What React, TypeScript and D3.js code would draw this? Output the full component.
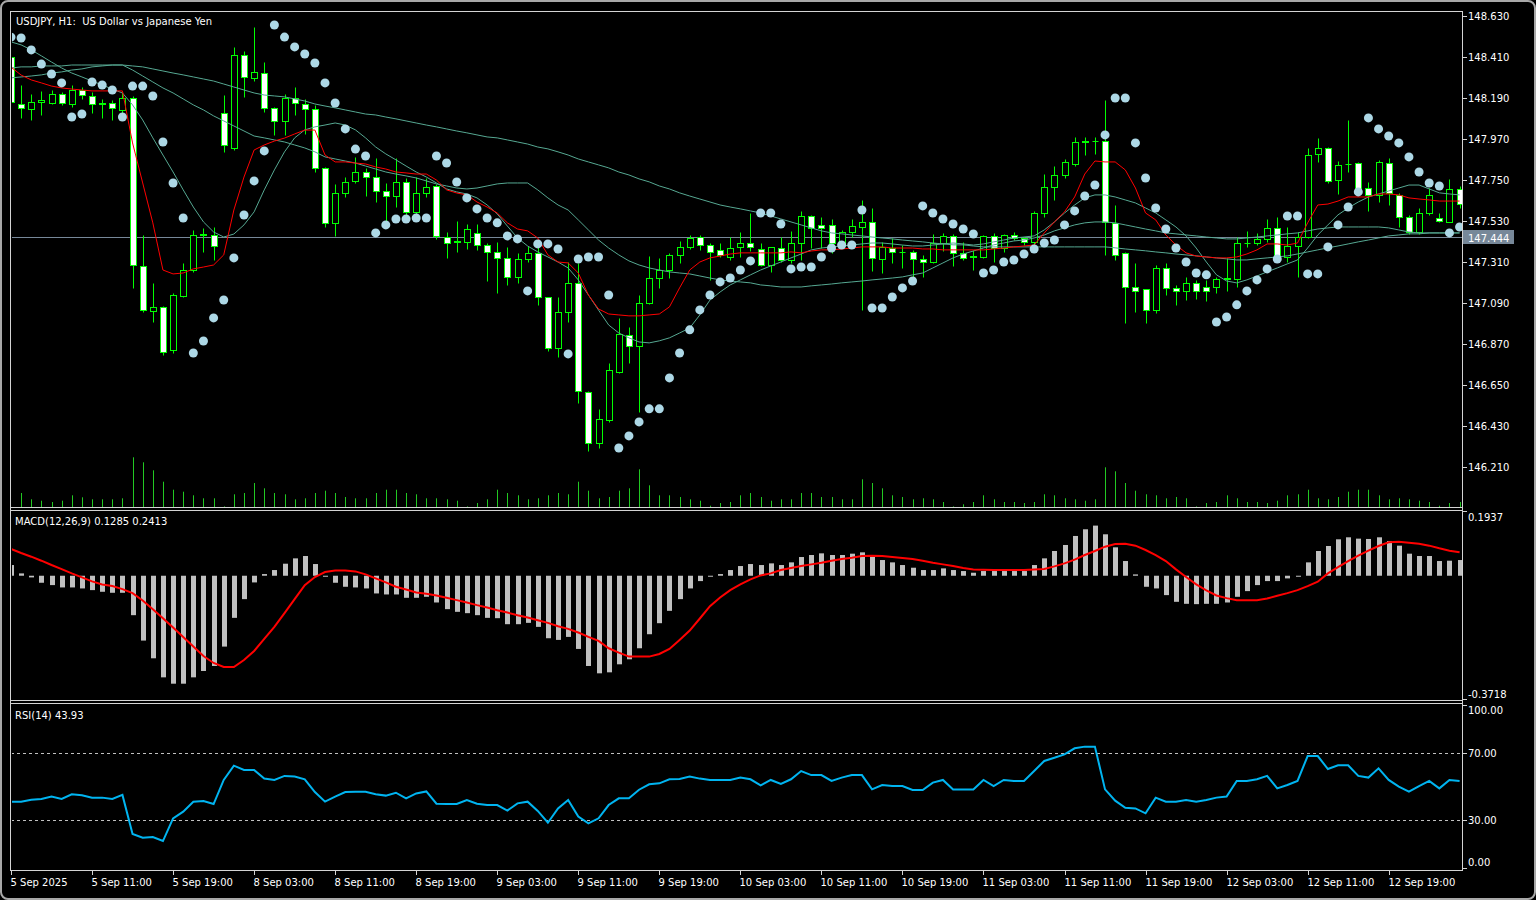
import React from "react";
import * as d3 from "d3";

// ---- data (USDJPY H1, 144 bars) ----
const open = [
  148.41, 148.16, 148.13, 148.17, 148.165, 148.21, 148.16, 148.233, 148.2, 148.165, 148.165, 148.126,
  148.188, 147.289, 147.047, 147.07, 146.838, 147.128, 147.267, 147.455, 147.455, 148.108, 147.92, 148.42,
  148.295, 148.326, 148.134, 148.066, 148.188, 148.156, 148.13, 147.816, 147.521, 147.678, 147.746, 147.794,
  147.768, 147.693, 147.666, 147.741, 147.577, 147.678, 147.718, 147.446, 147.423, 147.419, 147.467, 147.401,
  147.366, 147.333, 147.231, 147.324, 147.36, 147.124, 146.847, 147.042, 147.199, 146.613, 146.341, 146.462,
  146.722, 146.918, 146.86, 147.088, 147.222, 147.267, 147.347, 147.389, 147.446, 147.401, 147.374, 147.338,
  147.389, 147.414, 147.379, 147.294, 147.387, 147.321, 147.414, 147.557, 147.509, 147.509, 147.414, 147.47,
  147.5, 147.523, 147.325, 147.387, 147.364, 147.366, 147.327, 147.312, 147.411, 147.45, 147.357, 147.34,
  147.339, 147.447, 147.384, 147.455, 147.438, 147.42, 147.572, 147.715, 147.777, 147.835, 147.955, 147.958,
  147.96, 147.518, 147.357, 147.178, 147.164, 147.05, 147.28, 147.169, 147.157, 147.2, 147.178, 147.175,
  147.22, 147.218, 147.411, 147.411, 147.432, 147.491, 147.339, 147.397, 147.446, 147.89, 147.92, 147.751,
  147.834, 147.843, 147.706, 147.67, 147.843, 147.67, 147.55, 147.473, 147.572, 147.545, 147.522, 147.7,
];
const high = [
  148.44, 148.26, 148.21, 148.23, 148.233, 148.22, 148.26, 148.247, 148.224, 148.183, 148.18, 148.224,
  148.2, 147.455, 147.196, 147.075, 147.142, 147.303, 147.48, 147.49, 147.5, 148.206, 148.465, 148.44,
  148.573, 148.385, 148.143, 148.211, 148.247, 148.183, 148.152, 147.822, 147.73, 147.768, 147.875, 147.812,
  147.87, 147.736, 147.866, 147.759, 147.768, 147.759, 147.73, 147.473, 147.532, 147.514, 147.514, 147.414,
  147.419, 147.392, 147.36, 147.398, 147.392, 147.124, 147.124, 147.312, 147.303, 146.62, 146.52, 146.766,
  147.008, 146.963, 147.133, 147.342, 147.33, 147.356, 147.424, 147.455, 147.455, 147.41, 147.41, 147.446,
  147.473, 147.572, 147.411, 147.393, 147.446, 147.477, 147.581, 147.563, 147.554, 147.54, 147.482, 147.54,
  147.643, 147.598, 147.42, 147.437, 147.402, 147.375, 147.348, 147.461, 147.464, 147.461, 147.42, 147.375,
  147.455, 147.468, 147.461, 147.473, 147.446, 147.581, 147.783, 147.826, 147.861, 147.979, 147.979, 147.979,
  148.18, 147.616, 147.366, 147.304, 147.164, 147.294, 147.303, 147.187, 147.232, 147.214, 147.214, 147.232,
  147.33, 147.446, 147.479, 147.468, 147.54, 147.55, 147.5, 147.473, 147.92, 147.974, 147.929, 147.852,
  148.072, 147.849, 147.741, 147.858, 147.867, 147.679, 147.563, 147.598, 147.706, 147.572, 147.754, 147.72,
];
const low = [
  148.15, 148.08, 148.07, 148.1, 148.156, 148.155, 148.143, 148.183, 148.108, 148.08, 148.07, 148.072,
  147.17, 147.044, 146.99, 146.81, 146.82, 147.12, 147.258, 147.366, 147.32, 147.902, 147.91, 148.193,
  148.283, 148.117, 147.99, 147.99, 148.1, 147.999, 147.795, 147.5, 147.45, 147.657, 147.732, 147.664,
  147.634, 147.526, 147.607, 147.562, 147.553, 147.66, 147.432, 147.33, 147.366, 147.378, 147.374, 147.21,
  147.142, 147.186, 147.195, 147.308, 147.079, 146.834, 146.802, 146.99, 146.552, 146.298, 146.31, 146.453,
  146.713, 146.766, 146.507, 147.085, 147.169, 147.222, 147.303, 147.378, 147.374, 147.213, 147.338, 147.32,
  147.339, 147.371, 147.286, 147.259, 147.312, 147.307, 147.321, 147.384, 147.384, 147.357, 147.384, 147.446,
  147.053, 147.262, 147.25, 147.303, 147.277, 147.232, 147.232, 147.303, 147.371, 147.286, 147.321, 147.268,
  147.33, 147.312, 147.366, 147.429, 147.402, 147.402, 147.554, 147.643, 147.759, 147.826, 147.885, 147.89,
  147.348, 147.321, 146.985, 147.044, 146.982, 147.039, 147.134, 147.08, 147.107, 147.11, 147.103, 147.143,
  147.157, 147.178, 147.393, 147.402, 147.42, 147.321, 147.312, 147.232, 147.437, 147.849, 147.733, 147.674,
  147.795, 147.67, 147.581, 147.634, 147.616, 147.5, 147.461, 147.461, 147.563, 147.527, 147.522, 147.6,
];
const close = [
  148.17, 148.135, 148.17, 148.18, 148.21, 148.161, 148.233, 148.206, 148.156, 148.16, 148.134, 148.188,
  147.294, 147.053, 147.07, 146.829, 147.133, 147.267, 147.455, 147.46, 147.396, 147.938, 148.42, 148.305,
  148.331, 148.134, 148.066, 148.192, 148.165, 148.13, 147.816, 147.521, 147.682, 147.741, 147.794, 147.768,
  147.693, 147.666, 147.741, 147.577, 147.678, 147.714, 147.45, 147.414, 147.42, 147.485, 147.4, 147.366,
  147.333, 147.231, 147.326, 147.36, 147.124, 146.847, 147.042, 147.199, 146.62, 146.341, 146.466, 146.73,
  146.922, 146.86, 147.092, 147.226, 147.267, 147.347, 147.389, 147.437, 147.401, 147.365, 147.347, 147.383,
  147.414, 147.389, 147.294, 147.389, 147.321, 147.414, 147.557, 147.491, 147.491, 147.414, 147.47, 147.504,
  147.523, 147.334, 147.393, 147.361, 147.363, 147.325, 147.312, 147.411, 147.45, 147.357, 147.334, 147.339,
  147.45, 147.384, 147.455, 147.438, 147.42, 147.572, 147.715, 147.777, 147.849, 147.953, 147.957, 147.96,
  147.522, 147.348, 147.178, 147.157, 147.05, 147.28, 147.169, 147.157, 147.2, 147.157, 147.157, 147.218,
  147.223, 147.411, 147.414, 147.432, 147.491, 147.343, 147.397, 147.446, 147.885, 147.92, 147.742, 147.831,
  147.835, 147.688, 147.67, 147.849, 147.679, 147.554, 147.473, 147.572, 147.67, 147.532, 147.7, 147.62,
];
const volume = [
  1000, 1400, 770, 630, 500, 630, 1170, 970, 770, 770, 770, 870,
  4970, 4470, 3670, 2530, 1730, 1530, 1170, 870, 870, 60, 1270, 1400,
  2400, 1870, 1400, 1270, 770, 870, 1400, 1630, 1400, 1000, 870, 870,
  1400, 1730, 1730, 1400, 1270, 870, 870, 770, 630, 60, 400, 770,
  1730, 1400, 1170, 770, 870, 1170, 1400, 1270, 2530, 1630, 870, 1000,
  1630, 1870, 3770, 2170, 1170, 1170, 1000, 770, 630, 130, 400, 500,
  1170, 1400, 1000, 630, 770, 770, 1400, 1400, 1000, 1000, 770, 770,
  2770, 2400, 1870, 1170, 1000, 770, 870, 770, 500, 60, 270, 500,
  1170, 770, 500, 500, 400, 500, 1270, 1170, 870, 770, 630, 770,
  3970, 3570, 2400, 1630, 1270, 1170, 870, 1000, 870, 60, 400, 500,
  1170, 870, 500, 500, 400, 630, 1170, 1270, 1730, 870, 770, 1000,
  1530, 1730, 1730, 1170, 770, 870, 770, 630, 500, 130, 400, 500,
];
const sar = [
  148.517, 148.512, 148.448, 148.372, 148.319, 148.271, 148.088, 148.104, 148.276, 148.26, 148.233, 148.088,
  148.254, 148.254, 148.201, 147.954, 147.734, 147.546, 146.822, 146.886, 147.01, 147.106, 147.332, 147.562,
  147.745, 147.906, 148.582, 148.517, 148.464, 148.426, 148.378, 148.271, 148.163, 148.024, 147.916, 147.879,
  147.466, 147.509, 147.541, 147.541, 147.546, 147.546, 147.879, 147.841, 147.739, 147.654, 147.595, 147.546,
  147.52, 147.45, 147.434, 147.155, 147.407, 147.407, 147.38, 146.817, 147.326, 147.337, 147.337, 147.133,
  146.312, 146.377, 146.452, 146.522, 146.522, 146.688, 146.822, 146.946, 147.053, 147.133, 147.203, 147.224,
  147.267, 147.316, 147.573, 147.573, 147.514, 147.273, 147.283, 147.283, 147.337, 147.385, 147.401, 147.401,
  147.589, 147.063, 147.063, 147.122, 147.171, 147.208, 147.611, 147.573, 147.541, 147.514, 147.487, 147.46,
  147.251, 147.267, 147.31, 147.321, 147.353, 147.38, 147.412, 147.428, 147.509, 147.584, 147.664, 147.723,
  147.992, 148.19, 148.19, 147.949, 147.761, 147.6, 147.487, 147.385, 147.31, 147.251, 147.241, 146.988,
  147.015, 147.08, 147.155, 147.214, 147.273, 147.326, 147.557, 147.557, 147.246, 147.246, 147.391, 147.509,
  147.605, 147.686, 148.083, 148.024, 147.986, 147.949, 147.874, 147.793, 147.734, 147.718, 147.466, 147.498,
];
const maRed = [
  148.356, 148.313, 148.287, 148.271, 148.254, 148.244, 148.238, 148.233, 148.228, 148.228, 148.228, 148.228,
  147.949, 147.734, 147.52, 147.267, 147.246, 147.251, 147.273, 147.283, 147.294, 147.348, 147.589, 147.766,
  147.911, 147.938, 147.959, 147.975, 147.997, 148.018, 148.018, 147.884, 147.847, 147.847, 147.841, 147.836,
  147.82, 147.809, 147.793, 147.788, 147.782, 147.782, 147.75, 147.697, 147.68, 147.67, 147.632, 147.605,
  147.573, 147.52, 147.487, 147.477, 147.439, 147.348, 147.31, 147.305, 147.251, 147.133, 147.058, 147.031,
  147.026, 147.021, 147.021, 147.026, 147.031, 147.069, 147.171, 147.267, 147.31, 147.332, 147.342, 147.353,
  147.359, 147.359, 147.359, 147.359, 147.359, 147.364, 147.359, 147.369, 147.375, 147.375, 147.38, 147.385,
  147.391, 147.391, 147.391, 147.385, 147.385, 147.385, 147.38, 147.38, 147.375, 147.375, 147.375, 147.375,
  147.375, 147.38, 147.385, 147.391, 147.396, 147.401, 147.466, 147.525, 147.579, 147.659, 147.782, 147.852,
  147.847, 147.847, 147.804, 147.707, 147.573, 147.536, 147.455, 147.401, 147.359, 147.342, 147.337, 147.332,
  147.332, 147.337, 147.353, 147.375, 147.407, 147.407, 147.401, 147.412, 147.52, 147.616, 147.621, 147.637,
  147.659, 147.659, 147.659, 147.675, 147.675, 147.67, 147.654, 147.648, 147.643, 147.637, 147.637, 147.637,
];
const maFast = [
  148.491, 148.475, 148.448, 148.416, 148.383, 148.351, 148.324, 148.303, 148.281, 148.26, 148.238, 148.217,
  148.153, 148.072, 147.976, 147.884, 147.793, 147.697, 147.605, 147.525, 147.471, 147.444, 147.46, 147.509,
  147.579, 147.697, 147.804, 147.901, 147.976, 148.019, 148.035, 148.045, 148.056, 148.045, 148.019, 147.976,
  147.927, 147.89, 147.858, 147.825, 147.793, 147.766, 147.734, 147.702, 147.686, 147.675, 147.654, 147.616,
  147.568, 147.503, 147.439, 147.396, 147.364, 147.337, 147.31, 147.278, 147.214, 147.133, 147.052, 146.972,
  146.929, 146.903, 146.881, 146.876, 146.887, 146.903, 146.929, 146.956, 147.026, 147.106, 147.149, 147.187,
  147.214, 147.241, 147.267, 147.289, 147.31, 147.332, 147.353, 147.375, 147.385, 147.391, 147.396, 147.401,
  147.407, 147.412, 147.412, 147.407, 147.401, 147.396, 147.396, 147.401, 147.407, 147.412, 147.407, 147.401,
  147.407, 147.418, 147.428, 147.439, 147.444, 147.45, 147.482, 147.525, 147.573, 147.616, 147.654, 147.67,
  147.67, 147.659, 147.643, 147.627, 147.6, 147.573, 147.536, 147.498, 147.45, 147.385, 147.31, 147.241,
  147.208, 147.198, 147.214, 147.235, 147.257, 147.278, 147.3, 147.321, 147.385, 147.455, 147.509, 147.563,
  147.6, 147.632, 147.659, 147.675, 147.691, 147.707, 147.723, 147.723, 147.702, 147.681, 147.675, 147.67,
];
const maMid = [
  148.298, 148.303, 148.308, 148.314, 148.324, 148.33, 148.34, 148.346, 148.357, 148.362, 148.367, 148.367,
  148.34, 148.308, 148.276, 148.244, 148.217, 148.185, 148.153, 148.126, 148.094, 148.067, 148.04, 148.013,
  147.986, 147.976, 147.965, 147.954, 147.938, 147.922, 147.901, 147.874, 147.863, 147.852, 147.841, 147.825,
  147.809, 147.793, 147.782, 147.772, 147.761, 147.745, 147.729, 147.718, 147.707, 147.702, 147.707, 147.718,
  147.729, 147.734, 147.734, 147.734, 147.697, 147.654, 147.616, 147.589, 147.536, 147.482, 147.428, 147.385,
  147.348, 147.316, 147.294, 147.278, 147.267, 147.257, 147.251, 147.246, 147.235, 147.224, 147.214, 147.208,
  147.203, 147.198, 147.187, 147.182, 147.176, 147.176, 147.176, 147.182, 147.187, 147.192, 147.198, 147.203,
  147.208, 147.214, 147.219, 147.224, 147.23, 147.241, 147.251, 147.278, 147.305, 147.332, 147.353, 147.369,
  147.385, 147.402, 147.412, 147.423, 147.428, 147.439, 147.455, 147.477, 147.493, 147.509, 147.52, 147.525,
  147.525, 147.52, 147.509, 147.498, 147.487, 147.477, 147.466, 147.461, 147.455, 147.45, 147.444, 147.439,
  147.434, 147.434, 147.439, 147.444, 147.45, 147.455, 147.461, 147.466, 147.477, 147.487, 147.493, 147.498,
  147.498, 147.498, 147.498, 147.498, 147.493, 147.482, 147.471, 147.466, 147.466, 147.466, 147.466, 147.466,
];
const maSlow = [
  148.351, 148.357, 148.357, 148.362, 148.362, 148.362, 148.367, 148.367, 148.367, 148.367, 148.367, 148.367,
  148.362, 148.357, 148.346, 148.335, 148.324, 148.314, 148.303, 148.292, 148.281, 148.265, 148.249, 148.233,
  148.217, 148.206, 148.201, 148.196, 148.185, 148.174, 148.158, 148.147, 148.137, 148.126, 148.115, 148.104,
  148.099, 148.088, 148.078, 148.067, 148.056, 148.045, 148.035, 148.024, 148.013, 148.003, 147.992, 147.981,
  147.976, 147.965, 147.954, 147.943, 147.927, 147.917, 147.901, 147.884, 147.863, 147.847, 147.831, 147.815,
  147.793, 147.777, 147.756, 147.74, 147.718, 147.702, 147.681, 147.664, 147.648, 147.632, 147.616, 147.605,
  147.595, 147.584, 147.573, 147.557, 147.541, 147.525, 147.509, 147.493, 147.477, 147.466, 147.461, 147.455,
  147.45, 147.444, 147.439, 147.434, 147.428, 147.423, 147.418, 147.412, 147.407, 147.402, 147.402, 147.396,
  147.391, 147.391, 147.391, 147.391, 147.391, 147.391, 147.391, 147.391, 147.391, 147.391, 147.391, 147.391,
  147.391, 147.386, 147.38, 147.375, 147.37, 147.364, 147.359, 147.353, 147.348, 147.343, 147.337, 147.332,
  147.327, 147.321, 147.321, 147.327, 147.332, 147.337, 147.343, 147.353, 147.364, 147.375, 147.386, 147.396,
  147.407, 147.418, 147.428, 147.439, 147.45, 147.455, 147.461, 147.461, 147.466, 147.466, 147.466, 147.466,
];
const macdHist = [
  0.032, 0.007, -0.005, -0.021, -0.028, -0.035, -0.035, -0.038, -0.043, -0.048, -0.051, -0.051,
  -0.118, -0.194, -0.247, -0.304, -0.323, -0.323, -0.304, -0.285, -0.27, -0.212, -0.126, -0.07,
  -0.02, 0.005, 0.017, 0.036, 0.052, 0.059, 0.035, -0.003, -0.021, -0.033, -0.035, -0.038,
  -0.053, -0.056, -0.056, -0.066, -0.066, -0.063, -0.08, -0.1, -0.108, -0.112, -0.118, -0.126,
  -0.127, -0.145, -0.145, -0.141, -0.153, -0.187, -0.192, -0.183, -0.219, -0.27, -0.292, -0.289,
  -0.265, -0.25, -0.217, -0.175, -0.142, -0.105, -0.07, -0.038, -0.016, -0.001, 0.005, 0.017,
  0.029, 0.035, 0.032, 0.037, 0.032, 0.04, 0.056, 0.062, 0.067, 0.062, 0.062, 0.066,
  0.07, 0.057, 0.047, 0.04, 0.032, 0.024, 0.017, 0.017, 0.022, 0.017, 0.014, 0.009,
  0.014, 0.014, 0.014, 0.014, 0.014, 0.032, 0.052, 0.074, 0.092, 0.119, 0.139, 0.15,
  0.124, 0.085, 0.044, 0.004, -0.033, -0.038, -0.058, -0.078, -0.084, -0.085, -0.084, -0.084,
  -0.08, -0.063, -0.046, -0.028, -0.016, -0.016, -0.008, -0.001, 0.04, 0.074, 0.089, 0.109,
  0.115, 0.111, 0.11, 0.115, 0.104, 0.09, 0.066, 0.059, 0.059, 0.044, 0.045, 0.047,
];
const macdSignal = [
  0.08, 0.068, 0.057, 0.045, 0.032, 0.02, 0.007, -0.005, -0.017, -0.026, -0.031, -0.04,
  -0.052, -0.074, -0.1, -0.127, -0.155, -0.183, -0.212, -0.24, -0.261, -0.273, -0.273, -0.252,
  -0.225, -0.189, -0.153, -0.112, -0.07, -0.028, -0.004, 0.011, 0.016, 0.016, 0.013, 0.004,
  -0.008, -0.02, -0.033, -0.041, -0.05, -0.054, -0.059, -0.066, -0.073, -0.08, -0.088, -0.095,
  -0.103, -0.11, -0.118, -0.125, -0.133, -0.141, -0.151, -0.159, -0.17, -0.183, -0.195, -0.217,
  -0.23, -0.242, -0.242, -0.242, -0.234, -0.219, -0.192, -0.164, -0.128, -0.091, -0.065, -0.043,
  -0.026, -0.011, 0.001, 0.007, 0.017, 0.023, 0.029, 0.034, 0.039, 0.045, 0.05, 0.054,
  0.059, 0.06, 0.059, 0.056, 0.053, 0.05, 0.045, 0.039, 0.034, 0.029, 0.023, 0.019,
  0.018, 0.017, 0.017, 0.017, 0.017, 0.019, 0.02, 0.028, 0.037, 0.048, 0.062, 0.074,
  0.087, 0.095, 0.096, 0.09, 0.077, 0.062, 0.044, 0.019, -0.004, -0.026, -0.044, -0.059,
  -0.067, -0.073, -0.073, -0.073, -0.068, -0.06, -0.052, -0.043, -0.031, -0.018, 0.007, 0.026,
  0.044, 0.06, 0.075, 0.089, 0.1, 0.102, 0.099, 0.096, 0.09, 0.082, 0.075, 0.07,
];
const rsi = [
  40.9, 40.9, 42.1, 42.5, 43.9, 42.5, 45.3, 44.7, 43.3, 43.3, 42.5, 44.9,
  21.7, 19.5, 19.9, 17.5, 31.0, 35.0, 40.9, 41.3, 39.5, 53.8, 62.3, 59.7,
  59.7, 54.6, 53.8, 56.2, 55.8, 54.2, 46.6, 40.9, 43.9, 46.6, 46.8, 46.8,
  45.3, 44.5, 46.2, 42.9, 45.8, 47.0, 39.7, 39.5, 39.5, 41.9, 39.7, 38.9,
  38.9, 35.6, 39.9, 40.9, 35.4, 28.4, 36.9, 41.9, 32.0, 28.0, 31.0, 38.9,
  42.9, 42.9, 48.0, 51.2, 51.8, 54.2, 54.4, 55.8, 54.6, 53.8, 53.8, 53.8,
  55.2, 54.2, 50.6, 53.8, 51.4, 54.2, 59.1, 56.7, 56.7, 53.2, 55.2, 56.7,
  56.7, 48.2, 50.8, 50.2, 50.2, 47.8, 47.8, 52.2, 53.8, 48.2, 48.2, 48.2,
  53.8, 50.2, 53.8, 53.2, 53.2, 59.1, 65.1, 67.0, 69.0, 72.6, 73.6, 73.6,
  48.2, 41.5, 37.3, 36.9, 34.0, 43.3, 40.9, 40.9, 41.9, 40.9, 41.9, 43.3,
  43.9, 53.2, 53.2, 54.2, 56.2, 48.8, 50.8, 53.2, 68.0, 68.0, 60.3, 62.5,
  62.5, 56.2, 55.2, 60.7, 53.8, 49.8, 46.8, 50.2, 53.2, 48.8, 53.8, 53.2,
];
const timeLabels = [
  "5 Sep 2025", "5 Sep 11:00", "5 Sep 19:00", "8 Sep 03:00", "8 Sep 11:00", "8 Sep 19:00",
  "9 Sep 03:00", "9 Sep 11:00", "9 Sep 19:00", "10 Sep 03:00", "10 Sep 11:00", "10 Sep 19:00",
  "11 Sep 03:00", "11 Sep 11:00", "11 Sep 19:00", "12 Sep 03:00", "12 Sep 11:00", "12 Sep 19:00",
];
const priceTicks = [148.63, 148.41, 148.19, 147.97, 147.75, 147.53, 147.31, 147.09, 146.87, 146.65, 146.43, 146.21];
const macdRange = [-0.3718, 0.1937];
const rsiLevels = [70, 30];
const rsiTicks = [100, 70, 30, 0];
const bid = 147.444;

const LIME = "#00ff00";
const VOL = "#22c822";
const TEAL = "#56a892";
const FRAME = "#d4d4d4";
const FONT = "DejaVu Sans";

export default function App() {
  const n = close.length;
  const L = 11, R = 1462;
  const x = d3.scaleLinear().domain([0, n - 1]).range([11, 11 + 10.13 * (n - 1)]);
  const px = (i: number) => Math.round(x(i)) + 0.5;
  const yP = d3.scaleLinear().domain([146.21, 148.63]).range([467, 16]);
  const yV = d3.scaleLinear().domain([0, 5000]).range([507, 457]);
  const yM = d3.scaleLinear().domain(macdRange).range([700, 511]);
  const yR = d3.scaleLinear().domain([0, 100]).range([870.5, 702.2]);
  const snap = (v: number) => Math.round(v) + 0.5;

  const line = (ys: (v: number) => number) =>
    d3.line<number>().x((_, i) => x(i)).y((d) => ys(d));

  const yb = snap(yP(bid));

  return (
    <div style={{ position: "absolute", left: 0, top: 0 }}>
      <svg width={1536} height={900} style={{ display: "block", background: "#000" }}
        fontFamily={FONT} fontSize={10}>
        <defs>
          <clipPath id="main"><rect x={L + 1} y={12} width={R - L - 1} height={495} /></clipPath>
          <clipPath id="macd"><rect x={L + 1} y={511} width={R - L - 1} height={189} /></clipPath>
          <clipPath id="rsi"><rect x={L + 1} y={704} width={R - L - 1} height={166} /></clipPath>
        </defs>
        <rect x={1} y={1} width={1534} height={898} rx={7} fill="#000" stroke="#a8a8a8" strokeWidth={2} />

        {/* main panel */}
        <g clipPath="url(#main)">
          <line x1={L} x2={R} y1={yb} y2={yb} stroke="#778899" />
          {volume.map((v, i) => (
            <line key={i} x1={px(i)} x2={px(i)} y1={507} y2={yV(v)} stroke={VOL} />
          ))}
          {close.map((c, i) => {
            const o = open[i];
            const cx = px(i);
            const yTop = snap(yP(Math.max(o, c)));
            const yBot = snap(yP(Math.min(o, c)));
            const bull = c >= o;
            return (
              <g key={i}>
                <line x1={cx} x2={cx} y1={snap(yP(high[i]))} y2={snap(yP(low[i]))} stroke={LIME} />
                {yBot - yTop < 1 ? (
                  <line x1={cx - 3} x2={cx + 3} y1={yTop} y2={yTop} stroke={LIME} />
                ) : (
                  <rect x={cx - 3} y={yTop} width={6} height={yBot - yTop}
                    fill={bull ? "#000" : "#fff"} stroke={LIME} />
                )}
              </g>
            );
          })}
          <path d={line(yP)(maSlow) || ""} fill="none" stroke={TEAL} />
          <path d={line(yP)(maMid) || ""} fill="none" stroke={TEAL} />
          <path d={line(yP)(maFast) || ""} fill="none" stroke={TEAL} />
          <path d={line(yP)(maRed) || ""} fill="none" stroke="#ff0000" />
          {sar.map((s, i) => (
            <circle key={i} cx={x(i)} cy={yP(s)} r={4.5} fill="#add8e6" />
          ))}
        </g>
        <text x={16} y={25} fill="#fff" style={{ whiteSpace: "pre" }}>USDJPY, H1:  US Dollar vs Japanese Yen</text>

        {/* MACD panel */}
        <g clipPath="url(#macd)">
          {macdHist.map((h, i) => {
            const y0 = yM(0), y1 = yM(h);
            return <rect key={i} x={px(i) - 2.5} y={Math.min(y0, y1)} width={5}
              height={Math.max(1, Math.abs(y1 - y0))} fill="#c0c0c0" />;
          })}
          <path d={line(yM)(macdSignal) || ""} fill="none" stroke="#ff0000" strokeWidth={2} />
        </g>
        <text x={15} y={525} fill="#fff">MACD(12,26,9) 0.1285 0.2413</text>

        {/* RSI panel */}
        <g clipPath="url(#rsi)">
          {rsiLevels.map((v) => (
            <line key={v} x1={L} x2={R} y1={snap(yR(v))} y2={snap(yR(v))} stroke="#c0c0c0" strokeDasharray="3,3" />
          ))}
          <path d={line(yR)(rsi) || ""} fill="none" stroke="#00b4f0" strokeWidth={2} />
        </g>
        <text x={15} y={719} fill="#fff">RSI(14) 43.93</text>

        {/* frame */}
        <g stroke={FRAME} fill="none">
          <line x1={10.5} x2={10.5} y1={11} y2={871} />
          <line x1={10} x2={R + 1} y1={11.5} y2={11.5} />
          <line x1={R + 0.5} x2={R + 0.5} y1={11} y2={871} />
          <line x1={10} x2={R + 1} y1={507.5} y2={507.5} />
          <line x1={10} x2={R + 1} y1={510.5} y2={510.5} />
          <line x1={10} x2={R + 1} y1={700.5} y2={700.5} />
          <line x1={10} x2={R + 1} y1={703.5} y2={703.5} />
          <line x1={10} x2={R + 1} y1={870.5} y2={870.5} />
        </g>

        {/* price axis */}
        {priceTicks.map((v) => (
          <g key={v}>
            <line x1={R} x2={R + 5} y1={snap(yP(v))} y2={snap(yP(v))} stroke={FRAME} />
            <text x={R + 6} y={yP(v) + 4} fill="#fff">{v.toFixed(3)}</text>
          </g>
        ))}
        <rect x={R + 1} y={yb - 7.5} width={51} height={14} fill="#778899" />
        <text x={R + 6} y={yb + 4} fill="#fff">{bid.toFixed(3)}</text>

        {/* MACD axis */}
        <line x1={R} x2={R + 5} y1={511.5} y2={511.5} stroke={FRAME} />
        <text x={R + 6} y={521} fill="#fff">{macdRange[1].toFixed(4)}</text>
        <line x1={R} x2={R + 5} y1={699.5} y2={699.5} stroke={FRAME} />
        <text x={R + 6} y={698} fill="#fff">{macdRange[0].toFixed(4)}</text>

        {/* RSI axis */}
        {rsiTicks.map((v) => {
          const yy = v === 100 ? 705 : v === 0 ? 868 : yR(v);
          const ty = v === 100 ? 714 : v === 0 ? 866 : yR(v) + 4;
          return (
            <g key={v}>
              <line x1={R} x2={R + 5} y1={snap(yy)} y2={snap(yy)} stroke={FRAME} />
              <text x={R + 6} y={ty} fill="#fff">{v.toFixed(2)}</text>
            </g>
          );
        })}

        {/* time axis */}
        {timeLabels.map((t, k) => {
          const tx = px(k * 8);
          return (
            <g key={t}>
              <line x1={tx} x2={tx} y1={871} y2={875} stroke={FRAME} />
              <text x={tx - 1} y={886} fill="#fff">{t}</text>
            </g>
          );
        })}
      </svg>
    </div>
  );
}
